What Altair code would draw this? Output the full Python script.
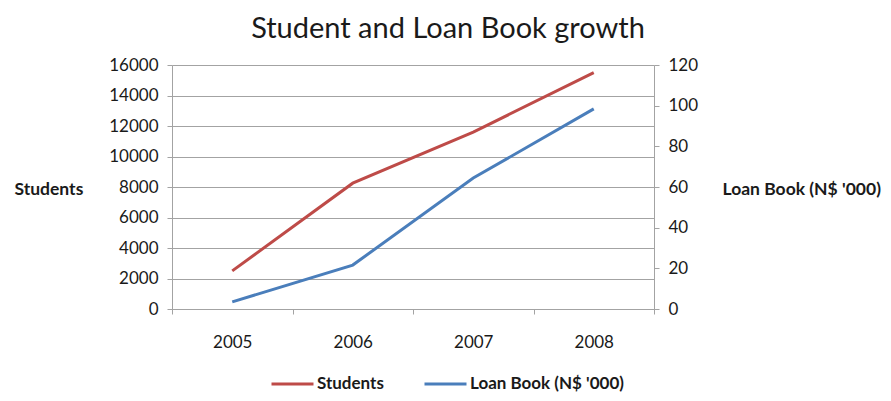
import altair as alt
import pandas as pd

years = ["2005", "2006", "2007", "2008"]
students = [2500, 8250, 11600, 15500]
loan_book = [3.5, 21.6, 64.4, 98.4]
series_names = ["Students", "Loan Book (N$ '000)"]
series_colors = ["#be4b48", "#4a7ebb"]
left_ticks = [0, 2000, 4000, 6000, 8000, 10000, 12000, 14000, 16000]
right_ticks = [0, 20, 40, 60, 80, 100, 120]

df = pd.DataFrame({
    "year": years * 2,
    "series": [series_names[0]] * len(years) + [series_names[1]] * len(years),
    "value": students + loan_book,
})

FONT = "Lato"
GRID = "#a3a3a3"
TXT = "#1a1a1a"

x = alt.X(
    "year:N",
    scale=alt.Scale(type="band", paddingInner=0, paddingOuter=0),
    bandPosition=0.5,
    axis=alt.Axis(
        title=None, labelAngle=0, tickBand="extent", tickSize=5,
        labelPadding=20, labelFontSize=17, labelFont=FONT, labelColor=TXT,
        domainColor=GRID, tickColor=GRID, grid=False,
    ),
)

color = alt.Color(
    "series:N",
    scale=alt.Scale(domain=series_names, range=series_colors),
    legend=alt.Legend(
        title=None, orient="none", direction="horizontal",
        legendX=98, legendY=307,
        symbolType="M-1,0H3", symbolStrokeWidth=3, symbolSize=441,
        labelFont=FONT, labelFontSize=17, labelFontWeight="bold", labelColor=TXT,
        labelOffset=23, columnPadding=34,
    ),
)

base = alt.Chart(df)

left = base.transform_filter(alt.datum.series == series_names[0]).mark_line(strokeWidth=3).encode(
    x=x,
    y=alt.Y(
        "value:Q",
        scale=alt.Scale(domain=[0, 16000], nice=False),
        axis=alt.Axis(
            orient="left", values=left_ticks, format="d", title="Students",
            titleAngle=0, titleAlign="left", titleBaseline="middle",
            titleX=-158, titleY=124, titleFont=FONT, titleFontSize=17.5,
            titleFontWeight="bold", titleColor=TXT,
            labelFont=FONT, labelFontSize=17, labelColor=TXT, labelPadding=9,
            tickSize=5, tickColor=GRID, domainColor=GRID,
            grid=True, gridColor=GRID, gridWidth=1.2,
        ),
    ),
    color=color,
)

right = base.transform_filter(alt.datum.series == series_names[1]).mark_line(strokeWidth=3).encode(
    x=x,
    y=alt.Y(
        "value:Q",
        scale=alt.Scale(domain=[0, 120], nice=False),
        axis=alt.Axis(
            orient="right", values=right_ticks, format="d", title="Loan Book (N$ '000)",
            titleAngle=0, titleAlign="left", titleBaseline="middle",
            titleX=68, titleY=124, titleFont=FONT, titleFontSize=17.5,
            titleFontWeight="bold", titleColor=TXT,
            labelFont=FONT, labelFontSize=17, labelColor=TXT, labelPadding=9,
            tickSize=5, tickColor=GRID, domainColor=GRID, grid=False,
        ),
    ),
    color=color,
)

chart = alt.layer(left, right).resolve_scale(y="independent").properties(
    width=482,
    height=244,
    autosize=alt.AutoSizeParams(type="none"),
    padding={"left": 164, "top": 57, "right": 229, "bottom": 84},
    title=alt.TitleParams(
        "Student and Loan Book growth", font=FONT, fontSize=29,
        fontWeight="normal", color=TXT, anchor="middle", dx=35, offset=12,
    ),
).configure_view(stroke=None)

chart.save("out.html", embed_options={"renderer": "svg", "actions": False})
